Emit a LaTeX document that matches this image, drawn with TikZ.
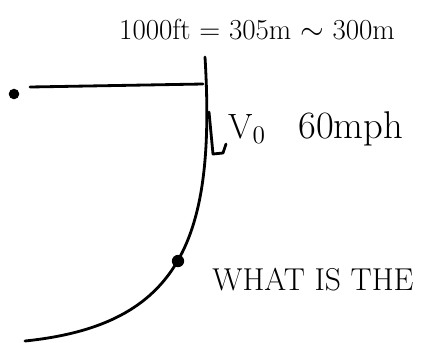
\documentclass[tikz,border=0pt]{standalone}
\usepackage{tikz}

\begin{document}
\begin{tikzpicture}[
            x=0.02cm, y=-0.02cm,
            every node/.style={inner sep=0pt, font=\fontsize{16.5}{18}\selectfont},
            pen/.style={line width=1.6pt, line cap=round, line join=round},
            blob/.style={circle, fill, minimum size=7pt}
        ]

        \useasboundingbox (0,0) rectangle (422,342);

        % ramp and track
        \coordinate (rimleft) at (30,87);
        \coordinate (rimright) at (203,84);
        \coordinate (tracktop) at (205,57);
        \coordinate (trackend) at (25,341);
        \node[blob, minimum size=6pt] (start) at (14,94) {};
        \draw[pen] (rimleft) -- (rimright);
        \draw[pen] (tracktop) .. controls (216,240) and (180,325) .. (trackend);
        \node[blob] (car) at (178,261) {};

        % speed arrow
        \coordinate (vtop) at (209,112);
        \coordinate (vtip) at (213,154);
        \coordinate (vbarb) at (223,153);
        \coordinate (vend) at (226,144);
        \draw[pen] (vtop) -- (vtip) -- (vbarb) -- (vend);

        % notes
        \node (height) at (257,30) {1000ft = 305m $\sim$ 300m};
        \node[anchor=base west, font=\fontsize{20}{22}\selectfont] (vzero) at (228,138) {V$_0$};
        \node[anchor=base west, font=\fontsize{22}{24}\selectfont] (speed) at (298,138) {60mph};
        \node[anchor=base west, font=\fontsize{18}{20}\selectfont] (question) at (212,290) {WHAT IS THE};

    \end{tikzpicture}
\end{document}
